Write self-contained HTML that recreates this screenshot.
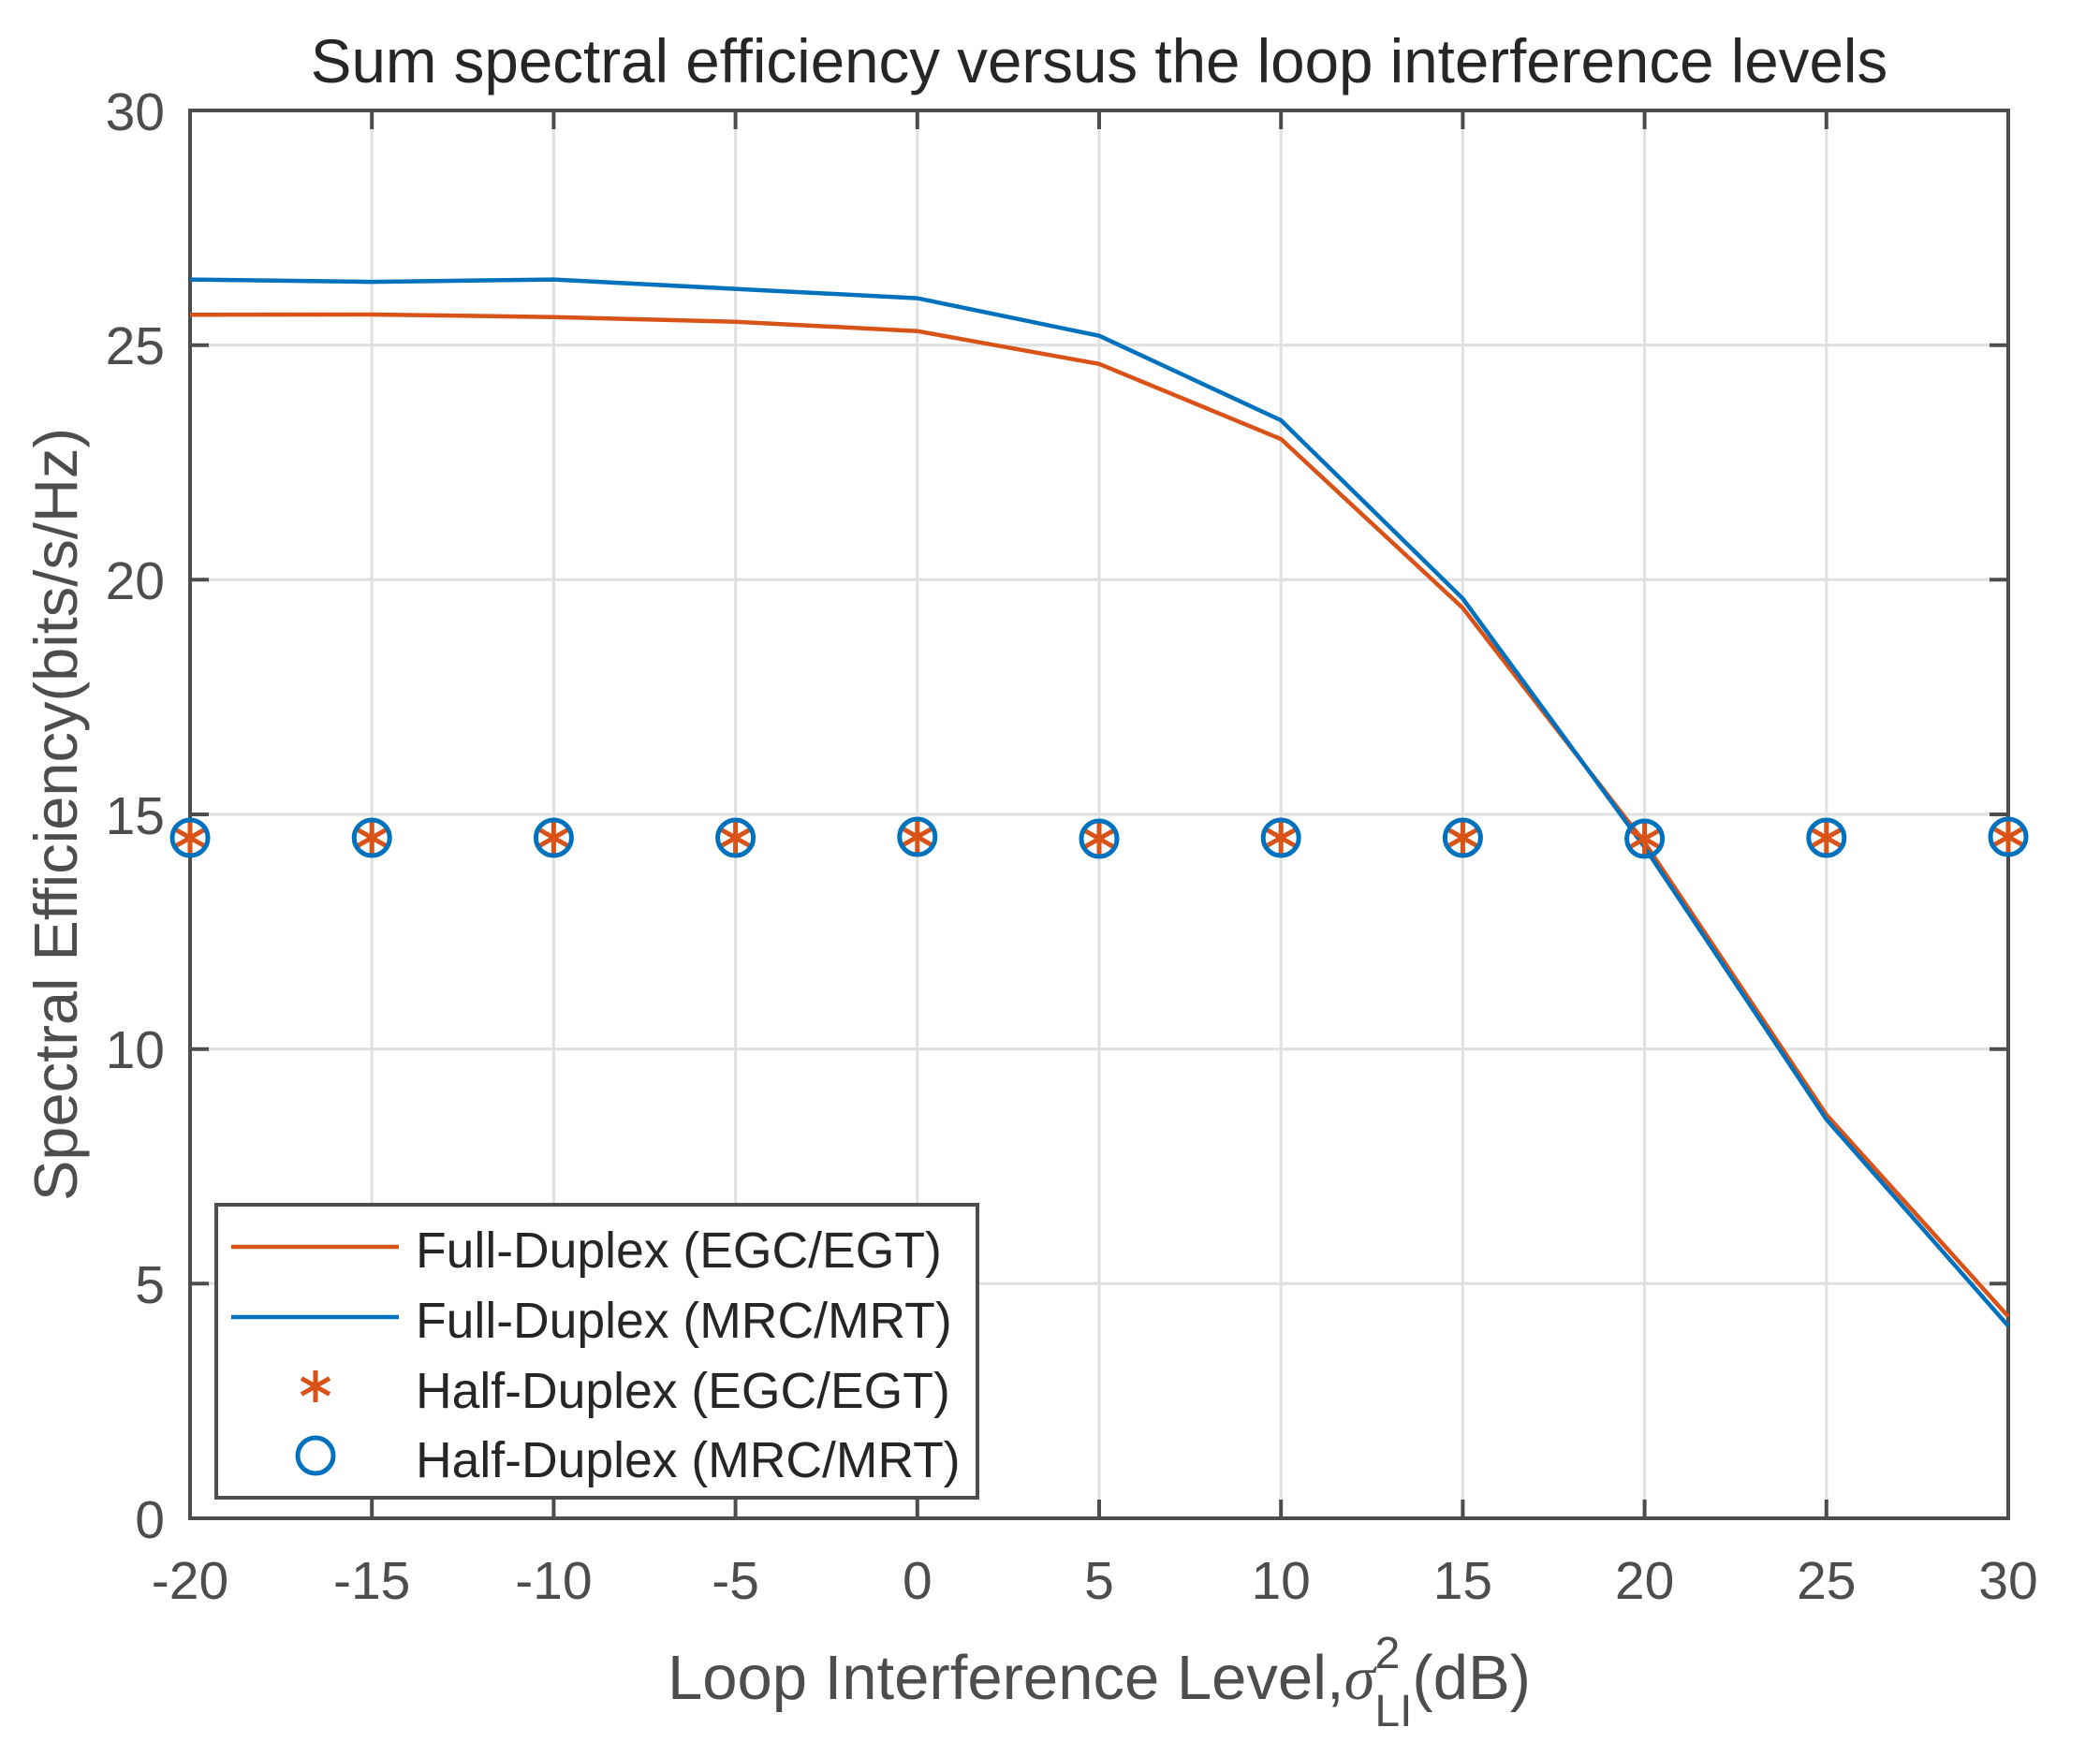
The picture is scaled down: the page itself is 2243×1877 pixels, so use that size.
<!DOCTYPE html>
<html><head><meta charset="utf-8"><style>html,body{margin:0;padding:0;background:#fff}</style></head>
<body>
<svg width="2243" height="1872" xmlns="http://www.w3.org/2000/svg" font-family="Liberation Sans, Arial, sans-serif">
<rect width="2243" height="1872" fill="#fff"/>
<g stroke="#e0e0e0" stroke-width="3">
<line x1="397.2" y1="118" x2="397.2" y2="1622"/><line x1="591.4" y1="118" x2="591.4" y2="1622"/>
<line x1="785.6" y1="118" x2="785.6" y2="1622"/><line x1="979.8" y1="118" x2="979.8" y2="1622"/>
<line x1="1174" y1="118" x2="1174" y2="1622"/><line x1="1368.2" y1="118" x2="1368.2" y2="1622"/>
<line x1="1562.4" y1="118" x2="1562.4" y2="1622"/><line x1="1756.6" y1="118" x2="1756.6" y2="1622"/>
<line x1="1950.8" y1="118" x2="1950.8" y2="1622"/>
<line x1="203" y1="368.7" x2="2145" y2="368.7"/><line x1="203" y1="619.3" x2="2145" y2="619.3"/>
<line x1="203" y1="870" x2="2145" y2="870"/><line x1="203" y1="1120.7" x2="2145" y2="1120.7"/>
<line x1="203" y1="1371.3" x2="2145" y2="1371.3"/>
</g>
<g stroke="#4d4d4d" stroke-width="4">
<path d="M397.2 1622v-20M591.4 1622v-20M785.6 1622v-20M979.8 1622v-20M1174 1622v-20M1368.2 1622v-20M1562.4 1622v-20M1756.6 1622v-20M1950.8 1622v-20"/>
<path d="M397.2 118v20M591.4 118v20M785.6 118v20M979.8 118v20M1174 118v20M1368.2 118v20M1562.4 118v20M1756.6 118v20M1950.8 118v20"/>
<path d="M203 368.7h20M203 619.3h20M203 870h20M203 1120.7h20M203 1371.3h20"/>
<path d="M2145 368.7h-20M2145 619.3h-20M2145 870h-20M2145 1120.7h-20M2145 1371.3h-20"/>
<rect x="203" y="118" width="1942" height="1504" fill="none"/>
</g>
<polyline fill="none" stroke="#d95319" stroke-width="4.5" points="203,336.2 397.2,336 591.4,338.7 785.6,343.7 979.8,353.7 1174,388.8 1368.2,469 1562.4,649.5 1756.6,900.1 1950.8,1190.9 2145,1406.4"/>
<polyline fill="none" stroke="#0072bd" stroke-width="4.5" points="203,298.6 397.2,301.1 591.4,298.6 785.6,308.6 979.8,318.6 1174,358.7 1368.2,449 1562.4,639.5 1756.6,905.1 1950.8,1195.9 2145,1416.5"/>
<defs>
<g id="ast" stroke="#d95319" stroke-width="5"><path d="M0 -17V17M-15 -8.5L15 8.5M-15 8.5L15 -8.5"/></g>
<circle id="circ" r="19" fill="none" stroke="#0072bd" stroke-width="5"/>
</defs>
<g>
<use href="#ast" x="203" y="895"/><use href="#ast" x="397.2" y="895"/><use href="#ast" x="591.4" y="895"/><use href="#ast" x="785.6" y="895"/><use href="#ast" x="979.8" y="894"/><use href="#ast" x="1174" y="896"/><use href="#ast" x="1368.2" y="895"/><use href="#ast" x="1562.4" y="895"/><use href="#ast" x="1756.6" y="896"/><use href="#ast" x="1950.8" y="895"/><use href="#ast" x="2145" y="894"/>
<use href="#circ" x="203" y="895"/><use href="#circ" x="397.2" y="895"/><use href="#circ" x="591.4" y="895"/><use href="#circ" x="785.6" y="895"/><use href="#circ" x="979.8" y="894"/><use href="#circ" x="1174" y="896"/><use href="#circ" x="1368.2" y="895"/><use href="#circ" x="1562.4" y="895"/><use href="#circ" x="1756.6" y="896"/><use href="#circ" x="1950.8" y="895"/><use href="#circ" x="2145" y="894"/>
</g>
<g fill="#4d4d4d" font-size="57">
<g text-anchor="end">
<text x="176" y="139">30</text><text x="176" y="389">25</text><text x="176" y="640">20</text><text x="176" y="891">15</text><text x="176" y="1141">10</text><text x="176" y="1392">5</text><text x="176" y="1643">0</text>
</g>
<g text-anchor="middle">
<text x="203" y="1708">-20</text><text x="397.2" y="1708">-15</text><text x="591.4" y="1708">-10</text><text x="785.6" y="1708">-5</text><text x="979.8" y="1708">0</text><text x="1174" y="1708">5</text><text x="1368.2" y="1708">10</text><text x="1562.4" y="1708">15</text><text x="1756.6" y="1708">20</text><text x="1950.8" y="1708">25</text><text x="2145" y="1708">30</text>
</g>
<text x="1174" y="1815" text-anchor="middle" font-size="67">Loop Interference Level,<tspan font-family="Liberation Serif, serif" font-style="italic">σ</tspan><tspan font-size="48" dy="-33">2</tspan><tspan font-size="48" dx="-27" dy="62">LI</tspan><tspan dy="-29">(dB)</tspan></text>
<text transform="translate(82,870) rotate(-90)" text-anchor="middle" font-size="65">Spectral Efficiency(bits/s/Hz)</text>
</g>
<text x="1174" y="88" text-anchor="middle" font-size="65.5" fill="#262626">Sum spectral efficiency versus the loop interference levels</text>
<rect x="231" y="1287" width="813" height="313" fill="#fff" stroke="#4d4d4d" stroke-width="4"/>
<line x1="247" y1="1332" x2="426" y2="1332" stroke="#d95319" stroke-width="4.5"/>
<line x1="247" y1="1407" x2="426" y2="1407" stroke="#0072bd" stroke-width="4.5"/>
<use href="#ast" x="337" y="1481"/>
<circle cx="337" cy="1555" r="19" fill="none" stroke="#0072bd" stroke-width="5"/>
<g font-size="53.5" fill="#262626">
<text x="444" y="1354">Full-Duplex (EGC/EGT)</text>
<text x="444" y="1429">Full-Duplex (MRC/MRT)</text>
<text x="444" y="1504">Half-Duplex (EGC/EGT)</text>
<text x="444" y="1578">Half-Duplex (MRC/MRT)</text>
</g>
</svg>
</body></html>
